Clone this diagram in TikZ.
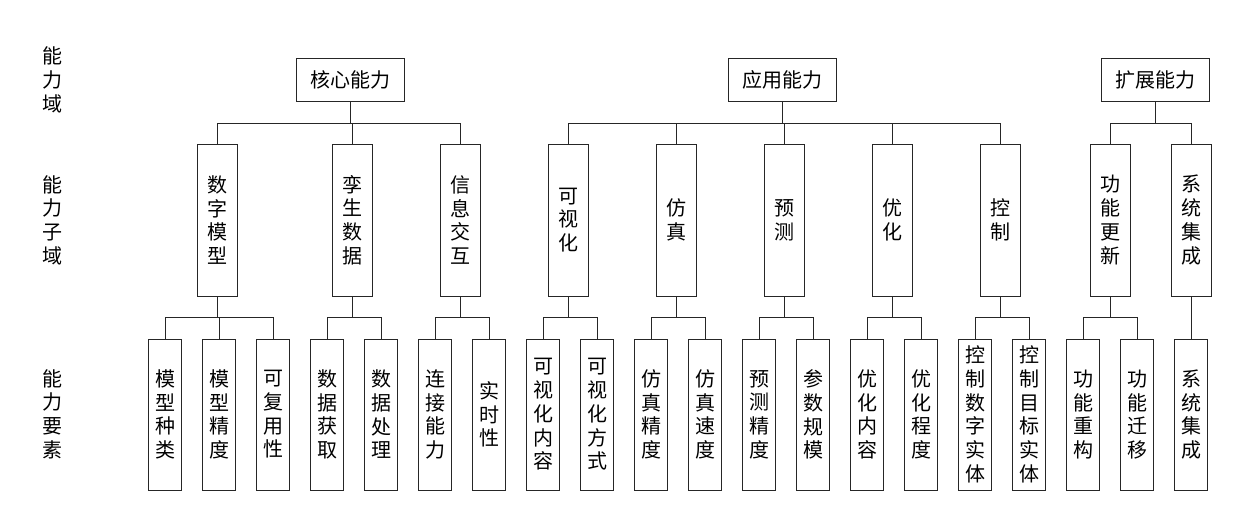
\documentclass[tikz,border=0pt]{standalone}
\usepackage{fontspec}
\setmainfont{Noto Sans CJK SC}
\begin{document}
\begin{tikzpicture}[x=1pt,y=-1pt,
  box/.style={draw=black!85,line width=0.9pt,inner sep=0pt,align=center,font=\fontsize{20}{23.7}\selectfont},
  topbox/.style={box,minimum width=108pt,minimum height=43pt},
  midbox/.style={box,minimum width=40pt,minimum height=152pt},
  botbox/.style={box,minimum width=33pt,minimum height=151pt},
  lab/.style={align=center,inner sep=0pt,font=\fontsize{20}{23.7}\selectfont},
  wire/.style={draw=black!85,line width=0.9pt}]
\useasboundingbox[fill=white] (0,0) rectangle (1242,532);
% level labels
\node[lab] (l1) at (52,80) {能\\力\\域};
\node[lab] (l2) at (52,220) {能\\力\\子\\域};
\node[lab] (l3) at (52,414) {能\\力\\要\\素};
% top level
\node[topbox] (t1) at (350,79.5) {核心能力};
\node[topbox] (t2) at (782,79.5) {应用能力};
\node[topbox] (t3) at (1155,79.5) {扩展能力};
% middle level
\node[midbox] (m1) at (217,220) {数\\字\\模\\型};
\node[midbox] (m2) at (352,220) {孪\\生\\数\\据};
\node[midbox] (m3) at (460,220) {信\\息\\交\\互};
\node[midbox] (m4) at (568,220) {可\\视\\化};
\node[midbox] (m5) at (676,220) {仿\\真};
\node[midbox] (m6) at (784,220) {预\\测};
\node[midbox] (m7) at (892,220) {优\\化};
\node[midbox] (m8) at (1000,220) {控\\制};
\node[midbox] (m9) at (1110,220) {功\\能\\更\\新};
\node[midbox] (m10) at (1191,220) {系\\统\\集\\成};
% bottom level
\node[botbox] (b1) at (165,414.5) {模\\型\\种\\类};
\node[botbox] (b2) at (219,414.5) {模\\型\\精\\度};
\node[botbox] (b3) at (273,414.5) {可\\复\\用\\性};
\node[botbox] (b4) at (327,414.5) {数\\据\\获\\取};
\node[botbox] (b5) at (381,414.5) {数\\据\\处\\理};
\node[botbox] (b6) at (435,414.5) {连\\接\\能\\力};
\node[botbox] (b7) at (489,414.5) {实\\时\\性};
\node[botbox] (b8) at (543,414.5) {可\\视\\化\\内\\容};
\node[botbox] (b9) at (597,414.5) {可\\视\\化\\方\\式};
\node[botbox] (b10) at (651,414.5) {仿\\真\\精\\度};
\node[botbox] (b11) at (705,414.5) {仿\\真\\速\\度};
\node[botbox] (b12) at (759,414.5) {预\\测\\精\\度};
\node[botbox] (b13) at (813,414.5) {参\\数\\规\\模};
\node[botbox] (b14) at (867,414.5) {优\\化\\内\\容};
\node[botbox] (b15) at (921,414.5) {优\\化\\程\\度};
\node[botbox] (b16) at (975,414.5) {控\\制\\数\\字\\实\\体};
\node[botbox] (b17) at (1029,414.5) {控\\制\\目\\标\\实\\体};
\node[botbox] (b18) at (1083,414.5) {功\\能\\重\\构};
\node[botbox] (b19) at (1137,414.5) {功\\能\\迁\\移};
\node[botbox] (b20) at (1191,414.5) {系\\统\\集\\成};
% top connectors
\coordinate (j1) at (t1.south |- 0,123);
\coordinate (j2) at (t2.south |- 0,123);
\coordinate (j3) at (t3.south |- 0,123);
\draw[wire] (t1.south) -- (j1);
\draw[wire] (t2.south) -- (j2);
\draw[wire] (t3.south) -- (j3);
\draw[wire] (m1.north) |- (m3.north |- j1) -- (m3.north);
\draw[wire] (m2.north) -- (m2.north |- j1);
\draw[wire] (m4.north) |- (m8.north |- j2) -- (m8.north);
\draw[wire] (m5.north) -- (m5.north |- j2);
\draw[wire] (m6.north) -- (m6.north |- j2);
\draw[wire] (m7.north) -- (m7.north |- j2);
\draw[wire] (m9.north) |- (m10.north |- j3) -- (m10.north);
% bottom connectors
\foreach \m/\a/\b in {m1/b1/b3,m2/b4/b5,m3/b6/b7,m4/b8/b9,m5/b10/b11,m6/b12/b13,m7/b14/b15,m8/b16/b17,m9/b18/b19}{
  \draw[wire] (\m.south) -- (\m.south |- 0,317);
  \draw[wire] (\a.north) |- (\b.north |- 0,317) -- (\b.north);
}
\draw[wire] (b2.north) -- (b2.north |- 0,317);
\draw[wire] (m10.south) -- (b20.north);
\end{tikzpicture}
\end{document}
